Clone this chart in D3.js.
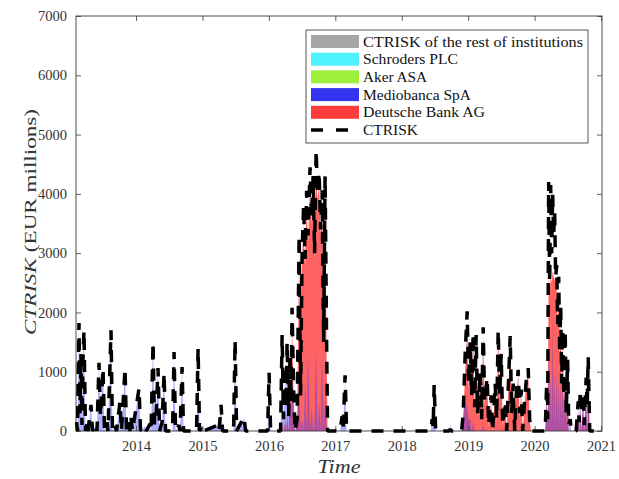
<!DOCTYPE html>
<html><head><meta charset="utf-8">
<script src="https://cdn.jsdelivr.net/npm/d3@7/dist/d3.min.js"></script>
<style>body{margin:0;background:#fff} text{font-family:'Liberation Serif','DejaVu Serif',serif}</style>
</head><body>
<svg id="c" width="619" height="479"></svg>
<script>
// Time (decimal years) of each observation
const time = [
 2013.104,2013.119,2013.141,2013.156,2013.171,2013.186,2013.201,2013.216,2013.239,2013.262,2013.277,2013.322,2013.345,
 2013.397,2013.412,2013.442,2013.465,2013.503,2013.525,2013.563,2013.578,2013.623,2013.645,2013.683,2013.706,2013.758,2013.781,2013.834,2013.857,2013.894,2013.909,2013.924,2013.947,
 2014.045,2014.068,2014.136,2014.151,2014.211,2014.226,2014.256,2014.279,2014.301,2014.331,2014.354,2014.392,2014.422,2014.444,2014.550,2014.572,2014.595,2014.647,2014.663,2014.693,2014.715,
 2014.911,2014.934,2014.956,2014.994,2015.017,2015.235,2015.250,2015.280,2015.303,2015.468,2015.491,2015.514,2015.626,2015.649,
 2015.980,2016.003,2016.026,2016.176,2016.199,2016.221,2016.244,2016.259,2016.274,2016.297,2016.319,2016.334,2016.349,2016.372,2016.395,
 2016.425,2016.455,2016.477,2016.500,2016.523,2016.545,2016.568,2016.590,2016.620,2016.643,2016.666,2016.688,2016.711,2016.733,2016.756,2016.779,2016.801,2016.824,2016.846,2016.869,2016.884,
 2017.072,2017.102,2017.117,2017.147,2017.170,
 2018.435,2018.458,2018.473,2018.488,2018.511,2018.714,2018.729,2018.744,
 2018.902,2018.925,2018.955,2018.985,2019.007,2019.030,2019.053,2019.075,2019.098,2019.120,2019.143,2019.181,2019.203,2019.226,2019.248,2019.286,2019.309,2019.346,2019.369,2019.407,2019.429,2019.452,2019.475,2019.497,2019.520,2019.557,2019.580,2019.603,2019.633,2019.655,2019.678,2019.701,2019.723,2019.753,2019.776,2019.798,2019.821,2019.843,2019.874,2019.904,2019.926,2019.949,
 2020.160,2020.182,2020.197,2020.212,2020.227,2020.242,2020.257,2020.272,2020.287,2020.302,2020.317,2020.333,2020.348,2020.363,2020.378,2020.393,2020.408,2020.423,2020.438,2020.461,2020.476,2020.498,2020.514,2020.536,2020.551,
 2020.626,2020.657,2020.672,2020.687,2020.702,2020.732,2020.747,2020.777,2020.792,2020.807,2020.830,2021.015
];
// Total CTRISK (EUR millions)
const ctrisk = [
 150,0,1820,300,1300,100,1200,1700,0,150,0,440,0,
 120,0,1150,250,1060,0,150,0,1700,0,100,0,490,0,1060,0,150,0,220,0,
 720,0,80,0,120,0,1500,100,250,1060,0,150,980,0,0,1330,0,100,0,1080,0,
 0,1400,0,100,0,100,0,440,0,0,1530,0,240,0,
 0,980,0,0,1620,200,1100,400,1500,250,1300,500,2080,700,0,
 200,3300,600,3000,3810,2900,4050,3300,4450,3600,4300,3000,4740,4000,4370,3400,4060,1500,4300,1500,0,
 0,250,50,940,0,
 0,200,60,780,0,0,30,0,
 0,300,1300,2020,800,1500,600,1650,400,1620,300,1000,200,1750,500,900,100,600,0,800,200,1700,600,1300,100,500,0,700,1600,300,800,0,600,1030,300,700,0,400,850,1060,200,0,
 0,800,200,4200,2500,4150,3000,4000,3300,3700,2600,2800,1800,2600,1300,2100,800,1700,600,1700,300,1200,100,200,0,
 0,500,150,690,300,640,100,900,400,1250,0,0
];
// Deutsche Bank AG contribution
const deutsche = [
 0,0,0,0,0,0,0,0,0,0,0,0,0,
 0,0,0,0,0,0,0,0,0,0,0,0,0,0,0,0,0,0,0,0,
 0,0,0,0,0,0,0,0,0,0,0,0,0,0,0,0,0,0,0,0,0,
 0,0,0,0,0,0,0,0,0,0,0,0,0,0,
 0,0,0,0,100,0,200,0,300,0,1100,400,1800,600,0,
 150,3000,500,2900,3500,2800,3800,3200,4150,3500,4100,2900,4300,3900,4200,3300,3900,1400,4000,1300,0,
 0,0,0,0,0,
 0,0,0,0,0,0,0,0,
 0,200,1000,1700,700,1450,550,1600,350,1650,250,950,150,1600,450,850,80,500,0,700,150,1650,550,1250,80,450,0,650,1580,250,750,0,550,950,250,650,0,350,800,1000,150,0,
 0,500,150,2600,2300,2600,2500,2700,2600,2550,2500,2500,1700,2300,1200,1800,700,1400,500,1000,200,700,0,0,0,
 0,300,0,400,0,500,0,600,0,700,0,0
];
// Mediobanca SpA contribution
const mediobanca = [
 150,0,1800,300,1300,100,1150,1700,0,150,0,420,0,
 100,0,1150,250,1050,0,150,0,1750,0,100,0,480,0,1050,0,150,0,200,0,
 700,0,80,0,120,0,1500,100,250,1050,0,150,960,0,0,1300,0,100,0,1050,0,
 0,1380,0,100,0,100,0,420,0,0,1520,0,220,0,
 0,950,0,0,1550,200,1000,400,1400,250,700,300,900,300,0,
 100,1100,0,200,0,900,0,1300,0,400,0,200,1330,0,500,0,1280,0,600,0,0,
 0,250,50,850,0,
 0,150,60,700,0,0,120,0,
 0,250,500,400,200,200,0,150,0,0,0,0,0,100,0,0,0,0,0,0,0,0,0,0,0,0,0,0,0,0,0,0,0,0,0,0,0,0,0,0,0,0,
 0,600,0,1400,0,1000,0,1900,0,1000,0,1100,0,900,0,800,0,1200,0,1300,0,1000,0,150,0,
 0,400,0,600,0,550,0,800,0,1200,0,0
];
const legendLabels = ["CTRISK of the rest of institutions","Schroders PLC","Aker ASA","Mediobanca SpA","Deutsche Bank AG","CTRISK"];
const legendWidths = [220,95,64,108,122,55];
const legendColors = ["#a6a6a6","#4ff2ff","#9ef03a","#3434ee","#ff3c3c",null];
const yTicks = [0,1000,2000,3000,4000,5000,6000,7000];
const xTicks = [2014,2015,2016,2017,2018,2019,2020,2021];

const m = {l:76, r:602, t:16, b:431};
const x = d3.scaleLinear().domain([2013.096, 2021.015]).range([m.l, m.r]);
const y = d3.scaleLinear().domain([0, 7000]).range([m.b, m.t]);
const svg = d3.select("#c");
const serif = "'Liberation Serif','DejaVu Serif',serif";
const axisCol = "#3a3a3a";

const pts = time.map((t,i)=>({t, c:ctrisk[i], db:deutsche[i], mb:mediobanca[i]}));

svg.append("defs").append("clipPath").attr("id","clip")
  .append("rect").attr("x",m.l).attr("y",m.t).attr("width",m.r-m.l).attr("height",m.b-m.t);
const g = svg.append("g").attr("clip-path","url(#clip)");
const area = key => d3.area().x(d=>x(d.t)).y0(y(0)).y1(d=>y(d[key]));
g.append("path").datum(pts).attr("d",area("db")).attr("fill","#ff2e2e").attr("fill-opacity",0.75);
g.append("path").datum(pts).attr("d",area("mb")).attr("fill","#3535ff").attr("fill-opacity",0.4);

// axes (ticks inward, box)
const ax = svg.append("g");
ax.append("g").attr("transform",`translate(${m.l},0)`)
  .call(d3.axisLeft(y).tickValues(yTicks).tickSize(-5).tickPadding(9).tickFormat(d3.format("d")));
ax.append("g").attr("transform",`translate(${m.r},0)`)
  .call(d3.axisRight(y).tickValues(yTicks).tickSize(-5).tickFormat(""));
ax.append("g").attr("transform",`translate(0,${m.b})`)
  .call(d3.axisBottom(x).tickValues(xTicks).tickSize(-5).tickPadding(10).tickFormat(d3.format("d")));
ax.append("g").attr("transform",`translate(0,${m.t})`)
  .call(d3.axisTop(x).tickValues(xTicks).tickSize(-5).tickFormat(""));
ax.selectAll(".domain").remove();
ax.selectAll(".tick line").attr("stroke",axisCol).attr("stroke-width",0.8);
ax.selectAll(".tick text").attr("font-size",14.5).style("font-family",serif).attr("fill","#333");
svg.append("rect").attr("x",m.l).attr("y",m.t).attr("width",m.r-m.l).attr("height",m.b-m.t)
  .attr("fill","none").attr("stroke",axisCol).attr("stroke-width",0.9);

// CTRISK dashed line
svg.append("path").datum(pts)
  .attr("d", d3.line().x(d=>x(d.t)).y(d=>y(d.c)))
  .attr("fill","none").attr("stroke","#000").attr("stroke-width",3.5)
  .attr("stroke-dasharray","12,10").attr("stroke-linejoin","bevel");

// axis labels
const ylab = svg.append("text").attr("transform","translate(36,222) rotate(-90)")
  .attr("text-anchor","middle").attr("font-size",17).attr("fill","#333")
  .attr("textLength",226).attr("lengthAdjust","spacingAndGlyphs");
ylab.append("tspan").attr("font-style","italic").text("CTRISK");
ylab.append("tspan").text(" (EUR millions)");
svg.append("text").attr("x",339).attr("y",473).attr("text-anchor","middle")
  .attr("font-size",18).attr("font-style","italic").attr("fill","#333")
  .attr("textLength",43).attr("lengthAdjust","spacingAndGlyphs").text("Time");

// legend
const lg = svg.append("g");
lg.append("rect").attr("x",306).attr("y",30).attr("width",282).attr("height",113)
  .attr("fill","#fff").attr("stroke","#444").attr("stroke-width",0.9);
legendLabels.forEach((lab,i)=>{
  const cy = 41.5 + i*17.7;
  if (legendColors[i]) {
    lg.append("rect").attr("x",311).attr("y",cy-6.5).attr("width",48).attr("height",13).attr("fill",legendColors[i]);
  } else {
    lg.append("line").attr("x1",311).attr("x2",359).attr("y1",cy).attr("y2",cy)
      .attr("stroke","#000").attr("stroke-width",3.5).attr("stroke-dasharray","12,13");
  }
  lg.append("text").attr("x",363).attr("y",cy+5).attr("font-size",15)
    .attr("fill","#111").attr("textLength",legendWidths[i]).attr("lengthAdjust","spacingAndGlyphs").text(lab);
});
</script>
</body></html>
